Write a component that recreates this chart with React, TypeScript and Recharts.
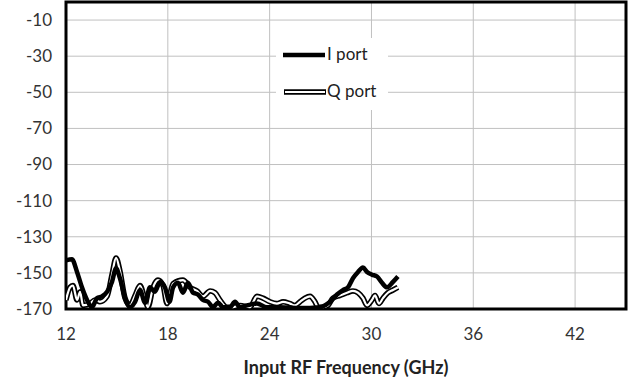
import { LineChart, Line, XAxis, YAxis, CartesianGrid, Legend, ReferenceArea } from 'recharts';

// axis ticks
const freqTicks = [12, 18, 24, 30, 36, 42];
const levelTicks = [-170, -150, -130, -110, -90, -70, -50, -30, -10];

// I port (GHz / level)
const iFreq = [
    12.0, 12.35, 12.65, 12.94, 13.24, 13.53, 13.83, 14.12, 14.42, 14.71, 14.95, 15.18, 15.48, 15.77,
    16.07, 16.36, 16.66, 16.95, 17.24, 17.54, 17.83, 18.1, 18.31, 18.6, 18.89, 19.19, 19.48, 19.78,
    20.07, 20.37, 20.66, 20.96, 21.25, 21.66, 21.96, 22.25, 22.67, 23.25, 23.84, 24.61, 25.79, 26.97,
    27.56, 27.97, 28.32, 28.62, 28.91, 29.21, 29.5, 29.74, 30.03, 30.33, 30.62, 30.92, 31.27, 31.56,
];
const iLevel = [
    -143, -142.5, -149.5, -158, -165, -169, -164, -163, -160.5, -155, -147.5, -153, -164, -169,
    -166, -159.5, -166.5, -158, -160.5, -155, -158, -166, -158, -155.5, -161, -155.5, -161, -162,
    -165, -166, -169, -166.5, -169, -169, -166, -169, -168, -167, -169, -169, -169.5, -169,
    -166, -162, -159.5, -158, -153, -149.5, -147, -149.5, -151, -152, -155.5, -158, -155, -152,
];

// Q port (GHz / level)
const qFreq = [
    12.0, 12.24, 12.41, 12.65, 12.83, 13.0, 13.41, 13.71, 14.0, 14.42, 14.71, 14.95, 15.18, 15.48,
    15.77, 16.07, 16.36, 16.66, 16.83, 17.13, 17.42, 17.72, 17.95, 18.31, 18.89, 19.31, 19.72, 20.07,
    20.49, 20.78, 21.07, 21.49, 21.84, 22.25, 22.84, 23.25, 23.61, 24.02, 24.43, 24.79, 25.2, 25.49,
    25.79, 26.08, 26.38, 26.67, 26.85, 27.14, 27.44, 27.73, 28.15, 28.56, 28.91, 29.21, 29.5, 29.74,
    30.03, 30.21, 30.44, 30.68, 30.97, 31.27, 31.56,
];
const qLevel = [
    -165, -158, -157, -165, -160.5, -168, -167, -165, -166, -163, -151, -141.7, -149, -164,
    -168, -162.5, -157, -165, -169, -158, -154, -157, -167, -156, -154, -158, -160, -163,
    -160, -161, -165, -169, -169, -168, -169, -163, -164, -166, -167, -166, -167, -168,
    -166, -164, -163, -166, -169, -169, -168, -164, -162.5, -161, -160, -161, -164, -168,
    -165, -162.5, -167, -164, -161, -159.5, -158,
];

const iPort = iFreq.map((f, k) => ({ f, v: iLevel[k] }));
const qPort = qFreq.map((f, k) => ({ f, v: qLevel[k] }));

const font = 'Lato, "Open Sans", sans-serif';

const XTick = (props: any) => {
    const { x, y, payload } = props;
    return (
        <text x={x} y={y} dy="0.71em" textAnchor="middle" fontFamily={font} fontSize={17} fill="#333">
            {payload.value}
        </text>
    );
};

const YTick = (props: any) => {
    const { x, y, payload } = props;
    return (
        <text x={x} y={y} dy="0.35em" textAnchor="end" fontFamily={font} fontSize={17} fill="#333">
            {payload.value}
        </text>
    );
};

const PortLegend = () => (
    <div style={{ position: 'relative', width: 112, height: 72, background: '#fff', fontFamily: font, fontSize: 17, color: '#222' }}>
        <svg width={52} height={72} style={{ position: 'absolute', left: 0, top: 0 }}>
            <line x1={7} x2={49} y1={17} y2={17} stroke="#000" strokeWidth={4.5} />
            <line x1={8} x2={50} y1={54} y2={54} stroke="#000" strokeWidth={5.5} />
            <line x1={9} x2={49} y1={54} y2={54} stroke="#fff" strokeWidth={2.2} />
        </svg>
        <span style={{ position: 'absolute', left: 51, top: 6, lineHeight: '20px' }}>I port</span>
        <span style={{ position: 'absolute', left: 51, top: 43, lineHeight: '20px' }}>Q port</span>
    </div>
);

export default function App() {
    return (
        <div style={{ position: 'absolute', left: 0, top: 0, width: 632, height: 386, background: '#fff' }}>
            <LineChart width={632} height={386} margin={{ top: 2, right: 6, bottom: 0, left: 0 }}>
                <CartesianGrid stroke="#c0c0c0" strokeWidth={1} />
                <XAxis
                    type="number"
                    dataKey="f"
                    domain={[12, 45]}
                    ticks={freqTicks}
                    allowDataOverflow
                    axisLine={false}
                    tickLine={false}
                    tickSize={0}
                    tickMargin={19}
                    tick={<XTick />}
                    height={77}
                    label={{
                        value: 'Input RF Frequency (GHz)',
                        position: 'insideBottom',
                        offset: 12,
                        style: { fontFamily: font, fontSize: 18, fontWeight: 700, fill: '#222' },
                    }}
                />
                <YAxis
                    type="number"
                    domain={[-170, 0]}
                    ticks={levelTicks}
                    allowDataOverflow
                    axisLine={false}
                    tickLine={false}
                    tickSize={0}
                    tickMargin={14}
                    tick={<YTick />}
                    width={66}
                />
                <Legend
                    layout="vertical"
                    align="center"
                    verticalAlign="middle"
                    content={<PortLegend />}
                    wrapperStyle={{ left: 276, top: 38, width: 112, height: 72 }}
                />
                <Line data={qPort} dataKey="v" type="monotone" stroke="#000" strokeWidth={5.5} dot={false} isAnimationActive={false} legendType="none" />
                <Line data={qPort} dataKey="v" type="monotone" stroke="#fff" strokeWidth={2.2} dot={false} isAnimationActive={false} legendType="none" />
                <Line data={iPort} dataKey="v" type="monotone" stroke="#000" strokeWidth={4.5} dot={false} isAnimationActive={false} legendType="none" />
                <ReferenceArea x1={12} x2={45} y1={-170} y2={0} fill="none" stroke="#000" strokeWidth={3} ifOverflow="visible" />
            </LineChart>
        </div>
    );
}
